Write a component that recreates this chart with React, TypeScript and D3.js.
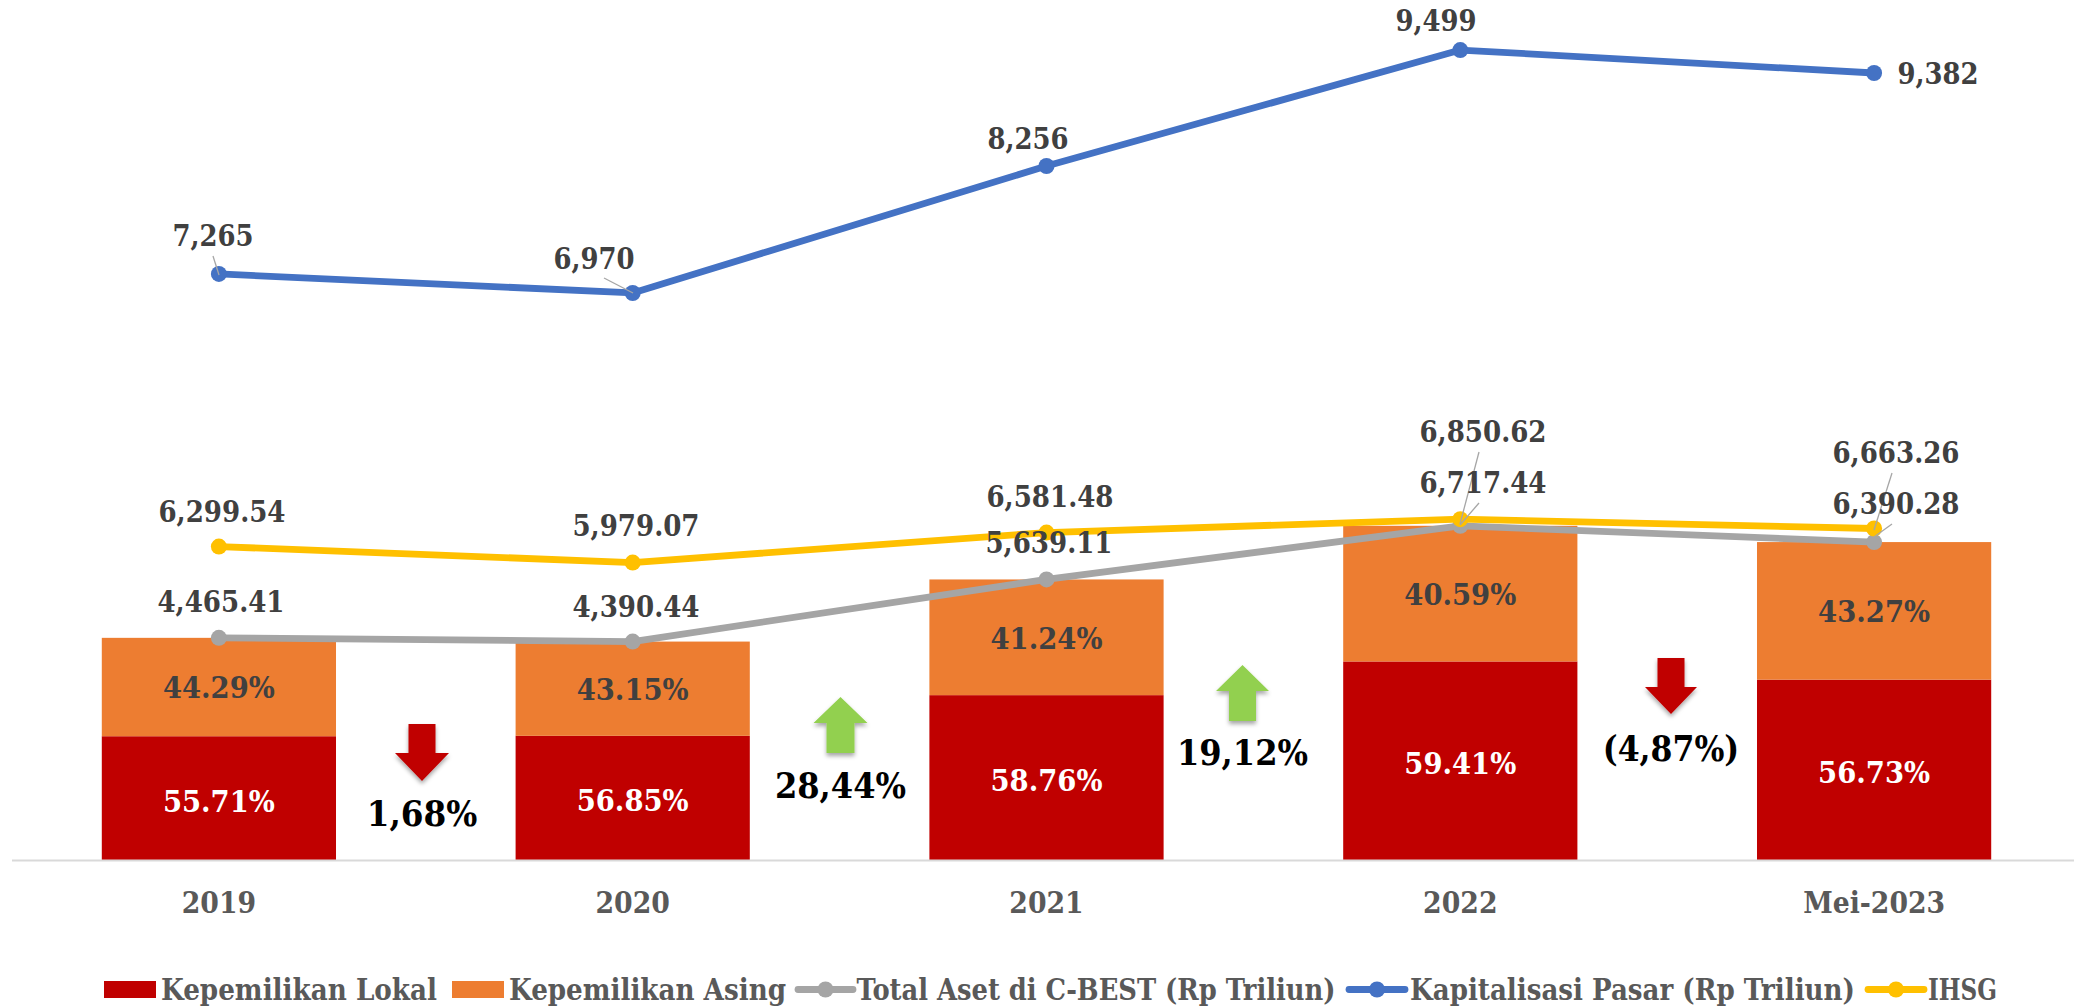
import React from "react";
import * as d3 from "d3";

const categories = ["2019", "2020", "2021", "2022", "Mei-2023"];
const totalAset = [4465.41, 4390.44, 5639.11, 6717.44, 6390.28];
const ihsg = [6299.54, 5979.07, 6581.48, 6850.62, 6663.26];
const kapitalisasiLabel = [7265, 6970, 8256, 9499, 9382];
const kapitalisasiPlotted = [7168, 6970, 8292, 9499, 9260];
const sharePctLokal = [55.71, 56.85, 58.76, 59.41, 56.73];
const sharePctAsing = [44.29, 43.15, 41.24, 40.59, 43.27];

const changes = [
  { text: "1,68%", dir: "down" },
  { text: "28,44%", dir: "up" },
  { text: "19,12%", dir: "up" },
  { text: "(4,87%)", dir: "down" },
];

const legendNames = ["Kepemilikan Lokal", "Kepemilikan Asing", "Total Aset di C-BEST (Rp Triliun)", "Kapitalisasi Pasar (Rp Triliun)", "IHSG"];

// layout
const W = 2074, H = 1007, BASE = 860;
const RED = "#C00000", ORANGE = "#ED7D31", GRAY = "#A5A5A5", BLUE = "#4472C4", YELLOW = "#FFC000", GREEN = "#92D050";
const FONT = "'DejaVu Serif Condensed', 'DejaVu Serif', serif";

const kapLabelAt = [[213, 235], [594, 258], [1028, 138], [1436, 20], [1938, 73]];
const ihsgLabelAt = [[222, 511], [636, 525], [1050, 496], [1483, 431], [1896, 452]];
const asetLabelAt = [[221, 601], [636, 606], [1049, 542], [1483, 482], [1896, 503]];
const leaders = [
  [213, 256, 219, 275], [604, 278, 633, 293],
  [1479, 452, 1460, 524], [1479, 503, 1460, 525],
  [1892, 473, 1874, 530], [1892, 524, 1874, 537],
];
const arrowGeo = [
  { cx: 422, tip: 781, sh: 753, end: 724, hw: 27, sw: 13.5, ty: 813 },
  { cx: 840.5, tip: 697, sh: 723, end: 753, hw: 27, sw: 14, ty: 785 },
  { cx: 1242.5, tip: 665, sh: 691, end: 721, hw: 26.5, sw: 13.5, ty: 752 },
  { cx: 1671, tip: 714, sh: 687, end: 658, hw: 26, sw: 13.5, ty: 748 },
];
const legendGeo = [
  { x0: 104, x1: 156, tx: 161, tw: 276 },
  { x0: 452, x1: 504, tx: 509, tw: 277 },
  { x0: 798, x1: 853, tx: 856.5, tw: 479 },
  { x0: 1349, x1: 1405, tx: 1410, tw: 445 },
  { x0: 1868, x1: 1924, tx: 1928, tw: 69 },
];

function widthOf(s: string, d: number) {
  let w = 0;
  for (const c of s) {
    if (/[0-9]/.test(c)) w += d;
    else if (c === "%") w += d * 1.77;
    else if (c === "-") w += d * 0.65;
    else if (c === "M") w += d * 1.5;
    else if (c === "e") w += d * 0.92;
    else if (c === "i") w += d * 0.56;
    else w += d * 0.63;
  }
  return w;
}

function Label({ x, y, s, size = 30, fill = "#404040", d = 17.5, tw }: any) {
  return (
    <text x={x} y={y + size * 0.365} fontFamily={FONT} fontWeight={700} fontSize={size} fill={fill}
      textAnchor="middle" textLength={tw ?? widthOf(s, d)} lengthAdjust="spacingAndGlyphs">{s}</text>
  );
}

export default function App() {
  const x = d3.scaleBand<string>().domain(categories).range([12, 2081]).paddingInner(0.434).paddingOuter(0.217);
  const cx = (i: number) => (x(categories[i]) as number) + x.bandwidth() / 2;
  const y = d3.scaleLinear().domain([0, 17286]).range([BASE, 0]);
  const yKap = d3.scaleLinear().domain([1067, 10020]).range([BASE, 0]);

  const stackRows = categories.map((c, i) => ({
    c,
    lokal: (totalAset[i] * sharePctLokal[i]) / 100,
    asing: (totalAset[i] * sharePctAsing[i]) / 100,
  }));
  const stacked = d3.stack<any>().keys(["lokal", "asing"])(stackRows);

  const mkLine = (vals: number[], sc: (v: number) => number) =>
    d3.line<number>().x((_, i) => cx(i)).y((v) => sc(v))(vals) as string;

  const series = [
    { vals: totalAset, sc: y, color: GRAY },
    { vals: kapitalisasiPlotted, sc: yKap, color: BLUE },
    { vals: ihsg, sc: y, color: YELLOW },
  ];
  const fmt2 = d3.format(",.2f");
  const fmt0 = d3.format(",");
  const pct = d3.format(".2f");

  return (
    <svg width={W} height={H} viewBox={`0 0 ${W} ${H}`} style={{ position: "absolute", left: 0, top: 0, display: "block", background: "#fff" }}>
      <defs>
        <filter id="sh" x="-30%" y="-30%" width="160%" height="160%">
          <feDropShadow dx="0" dy="3" stdDeviation="2.2" floodColor="#000" floodOpacity="0.35" />
        </filter>
      </defs>

      {stacked.map((layer, li) =>
        layer.map((seg, i) => (
          <rect key={`${li}-${i}`} x={x(categories[i])} width={x.bandwidth()} y={y(seg[1])} height={y(seg[0]) - y(seg[1])}
            fill={li === 0 ? RED : ORANGE} />
        ))
      )}
      <line x1={12} x2={W} y1={BASE + 0.5} y2={BASE + 0.5} stroke="#D9D9D9" strokeWidth={2} />

      {series.map((s, si) => (
        <g key={si}>
          <path d={mkLine(s.vals, s.sc as any)} fill="none" stroke={s.color} strokeWidth={6.8} strokeLinejoin="round" />
          {s.vals.map((v, i) => <circle key={i} cx={cx(i)} cy={s.sc(v)} r={8} fill={s.color} />)}
        </g>
      ))}

      {leaders.map((l, i) => <line key={i} x1={l[0]} y1={l[1]} x2={l[2]} y2={l[3]} stroke="#A6A6A6" strokeWidth={1.3} />)}

      {stacked.map((layer, li) =>
        layer.map((seg, i) => (
          <Label key={`p${li}-${i}`} x={cx(i)} y={(y(seg[0]) + y(seg[1])) / 2 + (li === 0 ? 2.5 : 0.5)}
            s={pct(li === 0 ? sharePctLokal[i] : sharePctAsing[i]) + "%"} fill={li === 0 ? "#fff" : "#404040"} />
        ))
      )}

      {kapitalisasiLabel.map((v, i) => <Label key={i} x={kapLabelAt[i][0]} y={kapLabelAt[i][1]} s={fmt0(v)} />)}
      {ihsg.map((v, i) => <Label key={i} x={ihsgLabelAt[i][0]} y={ihsgLabelAt[i][1]} s={fmt2(v)} />)}
      {totalAset.map((v, i) => <Label key={i} x={asetLabelAt[i][0]} y={asetLabelAt[i][1]} s={fmt2(v)} />)}

      {categories.map((c, i) => <Label key={c} x={cx(i)} y={902} s={c} fill="#595959" d={18.6} />)}

      {changes.map((c, i) => {
        const a = arrowGeo[i];
        const pts = [[a.cx, a.tip], [a.cx + a.hw, a.sh], [a.cx + a.sw, a.sh], [a.cx + a.sw, a.end], [a.cx - a.sw, a.end], [a.cx - a.sw, a.sh], [a.cx - a.hw, a.sh]];
        return (
          <g key={i}>
            <polygon points={pts.map((p) => p.join(",")).join(" ")} fill={c.dir === "up" ? GREEN : RED} filter="url(#sh)" />
            <Label x={a.cx} y={a.ty} s={c.text} size={36} fill="#000" d={20.5} />
          </g>
        );
      })}

      {legendNames.map((n, i) => {
        const g = legendGeo[i];
        const color = [RED, ORANGE, GRAY, BLUE, YELLOW][i];
        return (
          <g key={n}>
            {i < 2 ? (
              <rect x={g.x0} y={981} width={g.x1 - g.x0} height={17} fill={color} />
            ) : (
              <g>
                <line x1={g.x0} x2={g.x1} y1={989.5} y2={989.5} stroke={color} strokeWidth={6.8} strokeLinecap="round" />
                <circle cx={(g.x0 + g.x1) / 2} cy={989.5} r={8} fill={color} />
              </g>
            )}
            <text x={g.tx} y={1000} fontFamily={FONT} fontWeight={700} fontSize={29.5} fill="#595959" textLength={g.tw} lengthAdjust="spacingAndGlyphs">{n}</text>
          </g>
        );
      })}
    </svg>
  );
}
